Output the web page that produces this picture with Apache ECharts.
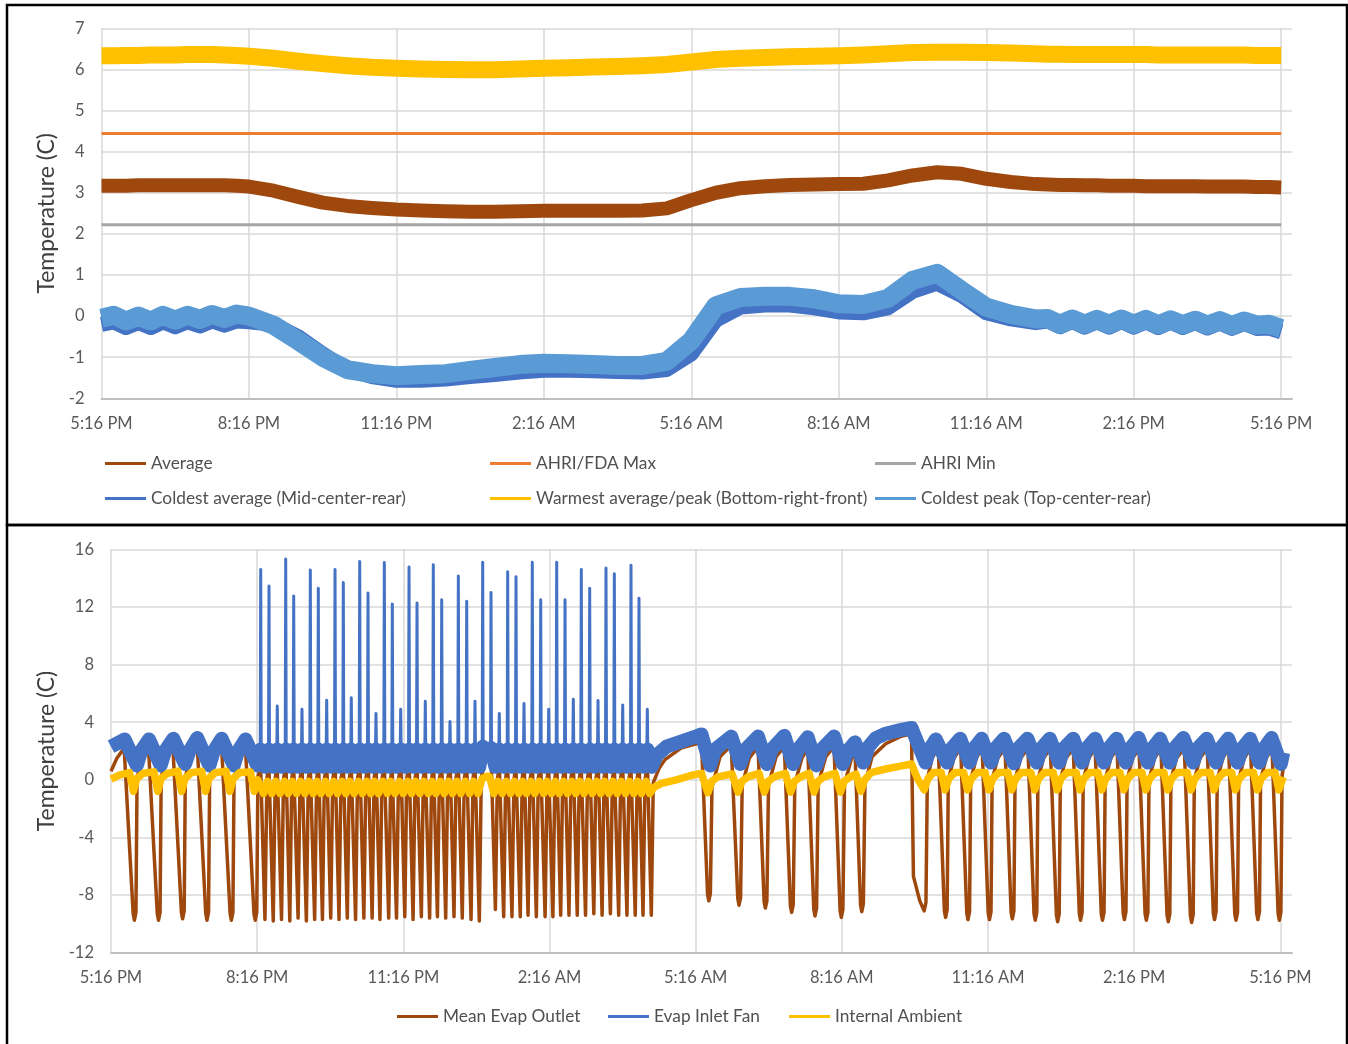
<!DOCTYPE html>
<html>
<head>
<meta charset="utf-8">
<script src="https://cdn.jsdelivr.net/npm/echarts@6/dist/echarts.min.js"></script>
<style>
  html, body { margin: 0; padding: 0; background: #ffffff; }
  #chart { width: 1348px; height: 1044px; }
</style>
</head>
<body>
<div id="chart"></div>
<script>
// All x values are hours elapsed since 5:16 PM.
const timeTickHours = [0, 3, 6, 9, 12, 15, 18, 21, 24];
const timeTickLabels = ['5:16 PM', '8:16 PM', '11:16 PM', '2:16 AM', '5:16 AM', '8:16 AM', '11:16 AM', '2:16 PM', '5:16 PM'];

// ---------- Upper panel: cabinet temperatures (C) ----------
const cabinetHours = [
  0, 0.25, 0.5, 0.75, 1, 1.25, 1.5, 1.75, 2, 2.25, 2.5, 2.75, 3,
  3.5, 4, 4.5, 5, 5.5, 6, 6.5, 7, 7.5, 8, 8.5, 9, 9.5, 10, 10.5, 11, 11.5, 12,
  12.5, 13, 13.5, 14, 14.5, 15, 15.5, 16, 16.5, 17, 17.5, 18, 18.5, 19,
  19.25, 19.5, 19.75, 20, 20.25, 20.5, 20.75, 21, 21.25, 21.5, 21.75, 22,
  22.25, 22.5, 22.75, 23, 23.25, 23.5, 23.75, 24
];
const averageTemp = [
  3.17, 3.17, 3.17, 3.18, 3.18, 3.18, 3.18, 3.18, 3.18, 3.18, 3.18, 3.17, 3.15,
  3.05, 2.9, 2.76, 2.68, 2.63, 2.59, 2.57, 2.55, 2.54, 2.54, 2.55, 2.56, 2.56, 2.56, 2.56, 2.57, 2.62, 2.82,
  3.0, 3.11, 3.16, 3.19, 3.2, 3.21, 3.22, 3.3, 3.42, 3.5, 3.46, 3.34, 3.26, 3.21,
  3.2, 3.19, 3.19, 3.18, 3.18, 3.17, 3.17, 3.17, 3.16, 3.16, 3.16, 3.16,
  3.16, 3.15, 3.15, 3.15, 3.15, 3.14, 3.14, 3.13
];
const coldestAverageTemp = [
  -0.2, -0.14, -0.28, -0.16, -0.28, -0.14, -0.26, -0.14, -0.24, -0.12, -0.22, -0.12, -0.14,
  -0.2, -0.5, -0.92, -1.3, -1.47, -1.56, -1.56, -1.53, -1.47, -1.42, -1.36, -1.32, -1.32, -1.33, -1.35, -1.36, -1.3, -0.92,
  -0.1, 0.22, 0.27, 0.27, 0.2, 0.1, 0.08, 0.2, 0.6, 0.8, 0.5, 0.08, -0.07, -0.16,
  -0.12, -0.26, -0.13, -0.27, -0.14, -0.27, -0.13, -0.27, -0.14, -0.28, -0.15, -0.28,
  -0.16, -0.29, -0.17, -0.3, -0.18, -0.3, -0.29, -0.38
];
const warmestTemp = [
  6.33, 6.33, 6.34, 6.34, 6.35, 6.35, 6.35, 6.36, 6.36, 6.36, 6.35, 6.34, 6.32,
  6.27, 6.2, 6.14, 6.09, 6.05, 6.03, 6.01, 6.0, 5.99, 5.99, 6.01, 6.03, 6.04, 6.06, 6.07, 6.09, 6.12, 6.18,
  6.24, 6.27, 6.29, 6.31, 6.32, 6.33, 6.35, 6.38, 6.41, 6.42, 6.42, 6.41, 6.4, 6.38,
  6.37, 6.37, 6.36, 6.36, 6.36, 6.36, 6.36, 6.36, 6.36, 6.35, 6.35, 6.35,
  6.35, 6.35, 6.35, 6.35, 6.35, 6.34, 6.34, 6.34
];
const coldestPeakTemp = [
  -0.05, 0.02, -0.12, 0.0, -0.12, 0.02, -0.1, 0.02, -0.08, 0.04, -0.06, 0.05, 0.0,
  -0.22, -0.6, -1.0, -1.3, -1.4, -1.45, -1.42, -1.4, -1.32, -1.25, -1.18, -1.15, -1.16, -1.18, -1.2, -1.2, -1.1, -0.6,
  0.25, 0.45, 0.48, 0.48, 0.42, 0.3, 0.28, 0.43, 0.87, 1.04, 0.62, 0.22, 0.04, -0.07,
  -0.06, -0.2, -0.07, -0.2, -0.08, -0.2, -0.07, -0.2, -0.08, -0.21, -0.09, -0.21,
  -0.1, -0.22, -0.11, -0.23, -0.12, -0.22, -0.2, -0.3
];
const ahriFdaMax = 4.44;
const ahriMin = 2.22;

// ---------- Lower panel: evaporator temperatures, [hour, C] ----------
const outletEvening = [
  [0, 0.6], [0.12, 1.5], [0.27, 2.2], [0.455, -9.3], [0.48, -9.75], [0.498, -9.8], [0.512, -9.2], [0.535, 0.2], [0.65, 1.6], [0.77, 2.2],
  [0.95, -9.3], [0.975, -9.75], [0.993, -9.8], [1.007, -9.2], [1.03, 0.2], [1.145, 1.6], [1.27, 2.3],
  [1.445, -9.2], [1.47, -9.65], [1.488, -9.7], [1.502, -9.1], [1.525, 0.2], [1.64, 1.7], [1.77, 2.4],
  [1.945, -9.3], [1.97, -9.75], [1.988, -9.8], [2.002, -9.2], [2.025, 0.2], [2.14, 1.6], [2.27, 2.3],
  [2.445, -9.3], [2.47, -9.75], [2.488, -9.8], [2.502, -9.2], [2.525, 0.1], [2.64, 1.6], [2.76, 2.2],
  [2.935, -9.3], [2.96, -9.75], [2.978, -9.8], [2.992, -9.2], [3.015, 0.2]
];
const outletNight = [
  [3.07, 1.0], [3.16, -9.7], [3.20, 0.1], [3.24, 1.1], [3.33, -9.8], [3.37, 0.1], [3.41, 1.0], [3.50, -9.7], [3.54, 0.0],
  [3.59, 1.2], [3.67, -9.8], [3.71, 0.1], [3.75, 0.9], [3.84, -9.6], [3.88, 0.0], [3.92, 1.1], [4.01, -9.8], [4.05, 0.1],
  [4.09, 1.0], [4.18, -9.7], [4.22, 0.0], [4.26, 1.2], [4.34, -9.7], [4.38, 0.1], [4.43, 1.0], [4.51, -9.6], [4.55, 0.0],
  [4.60, 1.1], [4.68, -9.7], [4.72, 0.1], [4.77, 0.9], [4.85, -9.6], [4.89, 0.0], [4.93, 1.1], [5.02, -9.7], [5.06, 0.1],
  [5.11, 1.0], [5.19, -9.6], [5.23, 0.0], [5.28, 1.2], [5.36, -9.6], [5.40, 0.1], [5.44, 1.0], [5.52, -9.7], [5.56, 0.0],
  [5.61, 1.1], [5.70, -9.6], [5.74, 0.1], [5.77, 0.9], [5.86, -9.6], [5.90, 0.0], [5.95, 1.1], [6.03, -9.5], [6.07, 0.1],
  [6.12, 1.0], [6.20, -9.7], [6.24, 0.0], [6.28, 1.2], [6.37, -9.5], [6.41, 0.1], [6.45, 1.0], [6.54, -9.6], [6.58, 0.0],
  [6.62, 1.1], [6.70, -9.5], [6.74, 0.1], [6.79, 0.9], [6.87, -9.6], [6.91, 0.0], [6.96, 1.1], [7.04, -9.5], [7.08, 0.1],
  [7.13, 1.0], [7.21, -9.6], [7.25, 0.0], [7.30, 1.2], [7.39, -9.7], [7.43, 0.1], [7.47, 1.0], [7.56, -9.8], [7.60, 0.2],
  [7.70, 1.5], [7.80, 1.7], [7.89, -9.0], [7.93, 0.0],
  [7.97, 1.0], [8.06, -9.5], [8.10, 0.1], [8.14, 1.1], [8.23, -9.5], [8.27, 0.0], [8.31, 1.0], [8.40, -9.5], [8.44, 0.1],
  [8.48, 1.2], [8.56, -9.4], [8.60, 0.0], [8.65, 1.0], [8.73, -9.5], [8.77, 0.1], [8.82, 1.1], [8.91, -9.5], [8.95, 0.0],
  [8.98, 1.0], [9.07, -9.5], [9.11, 0.1], [9.15, 1.2], [9.23, -9.4], [9.27, 0.0], [9.32, 1.0], [9.40, -9.4], [9.44, 0.1],
  [9.49, 1.1], [9.57, -9.4], [9.61, 0.0], [9.65, 1.0], [9.74, -9.4], [9.78, 0.1], [9.83, 1.2], [9.91, -9.3], [9.95, 0.0],
  [10.00, 1.0], [10.08, -9.4], [10.12, 0.1], [10.16, 1.1], [10.25, -9.3], [10.29, 0.0], [10.33, 1.0], [10.42, -9.4], [10.46, 0.1],
  [10.50, 1.2], [10.59, -9.4], [10.63, 0.0], [10.67, 1.0], [10.76, -9.4], [10.80, 0.1], [10.84, 1.1], [10.92, -9.4], [10.96, 0.0],
  [11.01, 1.0], [11.09, -9.4], [11.13, -0.2]
];
const outletMorning = [
  [11.25, 0.8], [11.37, 1.4], [11.7, 2.2], [12.12, 2.6],
  [12.245, -7.95], [12.27, -8.4], [12.288, -8.45], [12.302, -7.9], [12.335, -0.5], [12.5, 1.6], [12.73, 2.4],
  [12.865, -8.25], [12.89, -8.7], [12.908, -8.75], [12.922, -8.2], [12.955, -0.4], [13.1, 1.5], [13.28, 2.3],
  [13.405, -8.45], [13.43, -8.9], [13.448, -8.95], [13.462, -8.4], [13.495, -0.4], [13.65, 1.6], [13.82, 2.3],
  [13.945, -8.75], [13.97, -9.2], [13.988, -9.25], [14.002, -8.7], [14.035, -0.3], [14.18, 1.5], [14.30, 2.2],
  [14.425, -9.0], [14.45, -9.45], [14.468, -9.5], [14.482, -8.9], [14.515, -0.3], [14.67, 1.6], [14.84, 2.3],
  [14.965, -9.1], [14.99, -9.55], [15.008, -9.6], [15.022, -9.0], [15.055, -0.3], [15.20, 1.5], [15.27, 2.0],
  [15.385, -8.7], [15.41, -9.15], [15.428, -9.2], [15.442, -8.6], [15.475, -0.3], [15.62, 1.6], [15.9, 2.5],
  [16.2, 3.0], [16.43, 3.2]
];
const outletAfternoon = [
  [16.47, -6.7], [16.6, -8.4], [16.69, -9.1], [16.713, -9.15], [16.727, -8.5], [16.755, 0.0], [16.85, 1.5], [16.98, 2.2],
  [17.105, -9.1], [17.13, -9.55], [17.148, -9.6], [17.162, -9.0], [17.185, 0.0], [17.3, 1.5], [17.44, 2.2],
  [17.565, -9.25], [17.59, -9.7], [17.608, -9.75], [17.622, -9.15], [17.645, 0.0], [17.76, 1.5], [17.88, 2.2],
  [18.005, -9.25], [18.03, -9.7], [18.048, -9.75], [18.062, -9.15], [18.085, 0.0], [18.2, 1.5], [18.35, 2.2],
  [18.475, -9.2], [18.5, -9.65], [18.518, -9.7], [18.532, -9.1], [18.555, 0.0], [18.67, 1.5], [18.82, 2.2],
  [18.945, -9.3], [18.97, -9.75], [18.988, -9.8], [19.002, -9.2], [19.025, 0.0], [19.14, 1.5], [19.28, 2.2],
  [19.405, -9.4], [19.43, -9.85], [19.448, -9.9], [19.462, -9.3], [19.485, 0.0], [19.6, 1.5], [19.75, 2.2],
  [19.875, -9.3], [19.9, -9.75], [19.918, -9.8], [19.932, -9.2], [19.955, 0.0], [20.07, 1.5], [20.2, 2.2],
  [20.325, -9.3], [20.35, -9.75], [20.368, -9.8], [20.382, -9.2], [20.405, 0.0], [20.52, 1.5], [20.65, 2.2],
  [20.775, -9.25], [20.8, -9.7], [20.818, -9.75], [20.832, -9.15], [20.855, 0.0], [20.97, 1.5], [21.1, 2.2],
  [21.225, -9.3], [21.25, -9.75], [21.268, -9.8], [21.282, -9.2], [21.305, 0.0], [21.42, 1.5], [21.55, 2.2],
  [21.675, -9.4], [21.7, -9.85], [21.718, -9.9], [21.732, -9.3], [21.755, 0.0], [21.87, 1.5], [22.03, 2.2],
  [22.155, -9.45], [22.18, -9.9], [22.198, -9.95], [22.212, -9.35], [22.235, 0.0], [22.35, 1.5], [22.5, 2.2],
  [22.625, -9.25], [22.65, -9.7], [22.668, -9.75], [22.682, -9.15], [22.705, 0.0], [22.82, 1.5], [22.94, 2.2],
  [23.065, -9.3], [23.09, -9.75], [23.108, -9.8], [23.122, -9.2], [23.145, 0.0], [23.26, 1.5], [23.39, 2.2],
  [23.515, -9.25], [23.54, -9.7], [23.558, -9.75], [23.572, -9.15], [23.595, 0.0], [23.71, 1.5], [23.83, 2.2],
  [23.955, -9.3], [23.98, -9.75], [23.998, -9.8], [24.012, -9.2], [24.035, 0.2], [24.06, 0.8]
];

const fanEvening = [
  [0, 2.3], [0.28, 2.8], [0.53, 1.0], [0.62, 2.0], [0.78, 2.8], [1.02, 1.0], [1.11, 2.0], [1.28, 2.85], [1.52, 1.1],
  [1.61, 2.0], [1.77, 2.9], [2.02, 1.0], [2.11, 2.0], [2.27, 2.85], [2.52, 1.0], [2.61, 2.0], [2.76, 2.8], [3.0, 1.0]
];
const fanNight = [
  [3.07, 2.1], [3.16, 0.9], [3.24, 2.1], [3.33, 0.9], [3.41, 2.1], [3.50, 0.9], [3.59, 2.1], [3.68, 0.9],
  [3.75, 2.1], [3.84, 0.9], [3.92, 2.1], [4.01, 0.9], [4.09, 2.1], [4.18, 0.9], [4.26, 2.1], [4.35, 0.9],
  [4.43, 2.1], [4.52, 0.9], [4.60, 2.1], [4.69, 0.9], [4.77, 2.1], [4.86, 0.9], [4.93, 2.1], [5.02, 0.9],
  [5.11, 2.1], [5.20, 0.9], [5.28, 2.1], [5.37, 0.9], [5.44, 2.1], [5.53, 0.9], [5.61, 2.1], [5.70, 0.9],
  [5.77, 2.1], [5.86, 0.9], [5.95, 2.1], [6.04, 0.9], [6.12, 2.1], [6.21, 0.9], [6.28, 2.1], [6.37, 0.9],
  [6.45, 2.1], [6.54, 0.9], [6.62, 2.1], [6.71, 0.9], [6.79, 2.1], [6.88, 0.9], [6.96, 2.1], [7.05, 0.9],
  [7.13, 2.1], [7.22, 0.9], [7.30, 2.1], [7.39, 0.9], [7.47, 2.1], [7.56, 0.9], [7.63, 2.3], [7.72, 1.8],
  [7.80, 2.2], [7.89, 0.9], [7.97, 2.1], [8.06, 0.9], [8.14, 2.1], [8.23, 0.9], [8.31, 2.1], [8.40, 0.9],
  [8.48, 2.1], [8.57, 0.9], [8.65, 2.1], [8.74, 0.9], [8.82, 2.1], [8.91, 0.9], [8.98, 2.1], [9.07, 0.9],
  [9.15, 2.1], [9.24, 0.9], [9.32, 2.1], [9.41, 0.9], [9.49, 2.1], [9.58, 0.9], [9.65, 2.1], [9.74, 0.9],
  [9.83, 2.1], [9.92, 0.9], [10.00, 2.1], [10.09, 0.9], [10.16, 2.1], [10.25, 0.9], [10.33, 2.1], [10.42, 0.9],
  [10.50, 2.1], [10.59, 0.9], [10.67, 2.1], [10.76, 0.9], [10.84, 2.1], [10.93, 0.9], [11.01, 2.1], [11.10, 0.9]
];
const fanMorning = [
  [11.2, 1.7], [11.4, 2.3], [11.7, 2.65], [12.0, 3.0], [12.12, 3.15], [12.30, 1.0], [12.40, 2.1], [12.73, 3.0],
  [12.92, 1.1], [13.02, 2.1], [13.28, 3.0], [13.46, 1.1], [13.56, 2.1], [13.82, 3.05], [14.0, 1.1], [14.1, 2.1],
  [14.30, 2.95], [14.48, 1.0], [14.58, 2.1], [14.84, 3.0], [15.02, 1.1], [15.12, 2.0], [15.27, 2.6], [15.44, 1.2],
  [15.55, 2.3], [15.7, 2.9], [15.9, 3.2], [16.2, 3.45], [16.43, 3.6]
];
const fanAfternoon = [
  [16.72, 1.2], [16.8, 2.1], [16.93, 2.8], [17.16, 1.2], [17.26, 2.2], [17.43, 2.85], [17.62, 1.2], [17.72, 2.2],
  [17.87, 2.85], [18.06, 1.2], [18.16, 2.2], [18.33, 2.85], [18.53, 1.15], [18.63, 2.2], [18.81, 2.85], [19.0, 1.2],
  [19.1, 2.2], [19.27, 2.85], [19.46, 1.2], [19.56, 2.2], [19.75, 2.85], [19.93, 1.2], [20.03, 2.2], [20.2, 2.85],
  [20.38, 1.2], [20.48, 2.2], [20.64, 2.85], [20.83, 1.2], [20.93, 2.2], [21.09, 2.9], [21.28, 1.2], [21.38, 2.2],
  [21.53, 2.85], [21.73, 1.2], [21.83, 2.2], [22.01, 2.9], [22.21, 1.2], [22.31, 2.2], [22.49, 2.85], [22.68, 1.2],
  [22.78, 2.2], [22.93, 2.85], [23.12, 1.2], [23.22, 2.2], [23.38, 2.85], [23.57, 1.2], [23.67, 2.2], [23.82, 2.9],
  [24.01, 1.1], [24.06, 1.9]
];
// Short inlet-fan temperature peaks during the rapid-cycling period
const fanSpikeHours = [
  3.073, 3.243, 3.413, 3.586, 3.750, 3.920, 4.091, 4.255, 4.427, 4.598, 4.768, 4.932,
  5.105, 5.275, 5.439, 5.610, 5.774, 5.946, 6.117, 6.281, 6.451, 6.615, 6.788, 6.958,
  7.129, 7.301, 7.471, 7.629, 7.800, 7.970, 8.142, 8.313, 8.477, 8.647, 8.820, 8.984,
  9.148, 9.319, 9.489, 9.653, 9.825, 9.996, 10.160, 10.331, 10.503, 10.673, 10.837, 11.008
];
const fanSpikeTemps = [
  14.6, 13.45, 5.13, 15.33, 12.76, 4.9, 14.57, 13.3, 5.52, 14.6, 13.7, 5.7,
  15.15, 12.97, 4.6, 15.08, 12.2, 4.9, 14.77, 12.27, 5.45, 14.93, 12.5, 4.05,
  14.15, 12.4, 5.45, 15.1, 13.0, 4.6, 14.45, 14.1, 5.3, 15.1, 12.5, 4.9,
  15.1, 12.5, 5.6, 14.6, 13.3, 5.5, 14.7, 14.3, 5.2, 14.9, 12.6, 4.9
];

const ambientEvening = [
  [0, 0.05], [0.15, 0.3], [0.38, 0.5], [0.46, -0.8], [0.53, 0.1], [0.66, 0.45], [0.88, 0.55], [0.96, -0.8],
  [1.03, 0.1], [1.16, 0.45], [1.37, 0.6], [1.45, -0.8], [1.52, 0.1], [1.65, 0.5], [1.86, 0.6], [1.94, -0.8],
  [2.01, 0.1], [2.14, 0.5], [2.36, 0.6], [2.44, -0.8], [2.51, 0.1], [2.64, 0.5], [2.86, 0.55], [2.94, -0.8], [3.01, 0.0]
];
const ambientNight = [
  [3.04, -0.1], [3.13, -0.95], [3.21, -0.1], [3.30, -0.95], [3.38, -0.1], [3.47, -0.95], [3.56, -0.1], [3.64, -0.95],
  [3.72, -0.1], [3.81, -0.95], [3.89, -0.1], [3.98, -0.95], [4.06, -0.1], [4.15, -0.95], [4.23, -0.1], [4.31, -0.95],
  [4.40, -0.1], [4.48, -0.95], [4.57, -0.1], [4.65, -0.95], [4.74, -0.1], [4.82, -0.95], [4.90, -0.1], [4.99, -0.95],
  [5.08, -0.1], [5.16, -0.95], [5.25, -0.1], [5.33, -0.95], [5.41, -0.1], [5.49, -0.95], [5.58, -0.1], [5.67, -0.95],
  [5.74, -0.1], [5.83, -0.95], [5.92, -0.1], [6.00, -0.95], [6.09, -0.1], [6.17, -0.95], [6.25, -0.1], [6.34, -0.95],
  [6.42, -0.1], [6.51, -0.95], [6.59, -0.1], [6.67, -0.95], [6.76, -0.1], [6.84, -0.95], [6.93, -0.1], [7.01, -0.95],
  [7.10, -0.1], [7.18, -0.95], [7.27, -0.1], [7.36, -0.95], [7.44, -0.1], [7.53, -0.95], [7.62, 0.1], [7.72, 0.25],
  [7.77, 0.2], [7.86, -0.95], [7.94, -0.1], [8.03, -0.95], [8.11, -0.1], [8.20, -0.95], [8.28, -0.1], [8.37, -0.95],
  [8.45, -0.1], [8.53, -0.95], [8.62, -0.1], [8.70, -0.95], [8.79, -0.1], [8.88, -0.95], [8.95, -0.1], [9.04, -0.95],
  [9.12, -0.1], [9.20, -0.95], [9.29, -0.1], [9.37, -0.95], [9.46, -0.1], [9.54, -0.95], [9.62, -0.1], [9.71, -0.95],
  [9.80, -0.1], [9.88, -0.95], [9.97, -0.1], [10.05, -0.95], [10.13, -0.1], [10.22, -0.95], [10.30, -0.1], [10.39, -0.95],
  [10.47, -0.1], [10.56, -0.95], [10.64, -0.1], [10.73, -0.95], [10.81, -0.1], [10.89, -0.95], [10.98, -0.1], [11.06, -0.95]
];
const ambientMorning = [
  [11.15, -0.5], [11.3, -0.25], [11.6, 0.0], [11.9, 0.3], [12.12, 0.45], [12.25, -0.9], [12.33, -0.1], [12.45, 0.2],
  [12.75, 0.4], [12.87, -0.85], [12.95, -0.1], [13.07, 0.2], [13.3, 0.45], [13.41, -0.85], [13.49, -0.1], [13.61, 0.2],
  [13.84, 0.45], [13.95, -0.85], [14.03, -0.1], [14.15, 0.2], [14.33, 0.45], [14.43, -0.85], [14.51, -0.1], [14.63, 0.2],
  [14.86, 0.45], [14.97, -0.85], [15.05, -0.1], [15.17, 0.2], [15.29, 0.4], [15.39, -0.8], [15.47, 0.0], [15.6, 0.5],
  [15.9, 0.75], [16.2, 0.95], [16.43, 1.1]
];
const ambientAfternoon = [
  [16.55, 0.1], [16.69, -0.7], [16.77, 0.1], [16.88, 0.5], [17.04, 0.5], [17.12, -0.7], [17.2, 0.1], [17.32, 0.5],
  [17.5, 0.5], [17.58, -0.7], [17.66, 0.1], [17.78, 0.5], [17.94, 0.5], [18.02, -0.7], [18.10, 0.1], [18.22, 0.5],
  [18.41, 0.5], [18.49, -0.7], [18.57, 0.1], [18.69, 0.5], [18.88, 0.5], [18.96, -0.7], [19.04, 0.1], [19.16, 0.5],
  [19.34, 0.5], [19.42, -0.7], [19.5, 0.1], [19.62, 0.5], [19.81, 0.5], [19.89, -0.7], [19.97, 0.1], [20.09, 0.5],
  [20.26, 0.5], [20.34, -0.7], [20.42, 0.1], [20.54, 0.5], [20.71, 0.5], [20.79, -0.7], [20.87, 0.1], [20.99, 0.5],
  [21.16, 0.5], [21.24, -0.7], [21.32, 0.1], [21.44, 0.5], [21.61, 0.5], [21.69, -0.7], [21.77, 0.1], [21.89, 0.5],
  [22.09, 0.5], [22.17, -0.7], [22.25, 0.1], [22.37, 0.5], [22.56, 0.5], [22.64, -0.7], [22.72, 0.1], [22.84, 0.5],
  [23.0, 0.5], [23.08, -0.7], [23.16, 0.1], [23.28, 0.5], [23.45, 0.5], [23.53, -0.7], [23.61, 0.1], [23.73, 0.5],
  [23.89, 0.5], [23.97, -0.7], [24.05, 0.1], [24.06, 0.2]
];

// ---------- build ----------
const FONT = 'Lato';
const LABEL_COLOR = '#595959';
const GRID_COLOR = '#d9d9d9';

const C_BROWN = '#9E480E';
const C_ORANGE = '#ED7D31';
const C_GRAY = '#A5A5A5';
const C_BLUE = '#4472C4';
const C_GOLD = '#FFC000';
const C_LIGHTBLUE = '#5B9BD5';

const cabinetLine = temps => cabinetHours.map((h, i) => [h, temps[i]]);
const firstHour = cabinetHours[0];
const lastHour = cabinetHours[cabinetHours.length - 1];

const spikeData = [];
fanSpikeHours.forEach((h, i) => {
  spikeData.push([h - 0.01, 2.1], [h, fanSpikeTemps[i]], [h + 0.01, 2.0], [h + 0.011, '-']);
});

function timeAxis(gridIndex, max, margin) {
  return {
    type: 'value', gridIndex, min: 0, max, interval: 3,
    axisLine: { show: true, onZero: false, lineStyle: { color: '#bfbfbf', width: 2 } },
    axisTick: { show: false, customValues: timeTickHours },
    axisLabel: {
      customValues: timeTickHours,
      formatter: v => timeTickLabels[Math.round(v / 3)] || '',
      color: LABEL_COLOR, fontFamily: FONT, fontSize: 16.5, margin
    },
    splitLine: { show: true, lineStyle: { color: GRID_COLOR, width: 1.5 } }
  };
}
function tempAxis(gridIndex, min, max, interval) {
  return {
    type: 'value', gridIndex, min, max, interval,
    name: 'Temperature (C)', nameLocation: 'middle', nameGap: 40,
    nameTextStyle: { fontFamily: FONT, fontSize: 23, color: '#404040' },
    axisLine: { show: false }, axisTick: { show: false },
    axisLabel: { color: LABEL_COLOR, fontFamily: FONT, fontSize: 16.5, margin: 17 },
    splitLine: { show: true, lineStyle: { color: GRID_COLOR, width: 1.5 } }
  };
}
function lineSeries(name, axisIndex, data, color, width) {
  return {
    name, type: 'line', xAxisIndex: axisIndex, yAxisIndex: axisIndex, data,
    showSymbol: false, symbol: 'none', animation: false, silent: true,
    itemStyle: { color },
    lineStyle: { color, width, join: 'round', cap: 'butt' }
  };
}
function legendAt(name, left, centerY) {
  return {
    data: [name], left, top: centerY - 9, padding: 0, icon: 'rect',
    itemWidth: 41, itemHeight: 3, selectedMode: false,
    textStyle: { fontFamily: FONT, fontSize: 17.3, color: '#505050' }
  };
}

const option = {
  backgroundColor: '#ffffff',
  animation: false,
  grid: [
    { left: 101.5, right: 56, top: 28.3, height: 370 },
    { left: 111, right: 56, top: 549.3, height: 403.4 }
  ],
  xAxis: [timeAxis(0, 24.22, 17), timeAxis(1, 24.24, 16)],
  yAxis: [tempAxis(0, -2, 7, 1), tempAxis(1, -12, 16, 4)],
  legend: [
    legendAt('Average', 105, 464),
    legendAt('AHRI/FDA Max', 490, 464),
    legendAt('AHRI Min', 875, 464),
    legendAt('Coldest average (Mid-center-rear)', 105, 499),
    legendAt('Warmest average/peak (Bottom-right-front)', 490, 499),
    legendAt('Coldest peak (Top-center-rear)', 875, 499),
    legendAt('Mean Evap Outlet', 397, 1017),
    legendAt('Evap Inlet Fan', 608, 1017),
    legendAt('Internal Ambient', 789, 1017)
  ],
  series: [
    lineSeries('Average', 0, cabinetLine(averageTemp), C_BROWN, 14),
    lineSeries('AHRI/FDA Max', 0, [[firstHour, ahriFdaMax], [lastHour, ahriFdaMax]], C_ORANGE, 3),
    lineSeries('AHRI Min', 0, [[firstHour, ahriMin], [lastHour, ahriMin]], C_GRAY, 3),
    lineSeries('Coldest average (Mid-center-rear)', 0, cabinetLine(coldestAverageTemp), C_BLUE, 15),
    lineSeries('Warmest average/peak (Bottom-right-front)', 0, cabinetLine(warmestTemp), C_GOLD, 17),
    lineSeries('Coldest peak (Top-center-rear)', 0, cabinetLine(coldestPeakTemp), C_LIGHTBLUE, 19),

    lineSeries('Mean Evap Outlet', 1,
      outletEvening.concat(outletNight, outletMorning, outletAfternoon), C_BROWN, 3.5),
    lineSeries('Evap Inlet Fan', 1,
      fanEvening.concat(fanNight, fanMorning, fanAfternoon), C_BLUE, 14),
    Object.assign(lineSeries('Evap Inlet Fan', 1, spikeData, C_BLUE, 3), { connectNulls: false }),
    lineSeries('Internal Ambient', 1,
      ambientEvening.concat(ambientNight, ambientMorning, ambientAfternoon), C_GOLD, 7.5)
  ],
  graphic: [
    { type: 'rect', silent: true, z: 100, shape: { x: 7, y: 5, width: 1340, height: 520 },
      style: { fill: 'none', stroke: '#000000', lineWidth: 2.5 } },
    { type: 'rect', silent: true, z: 100, shape: { x: 7, y: 525, width: 1340, height: 530 },
      style: { fill: 'none', stroke: '#000000', lineWidth: 2.5 } }
  ]
};

const chart = echarts.init(document.getElementById('chart'), null, { renderer: 'canvas' });
chart.setOption(option);
</script>
</body>
</html>
